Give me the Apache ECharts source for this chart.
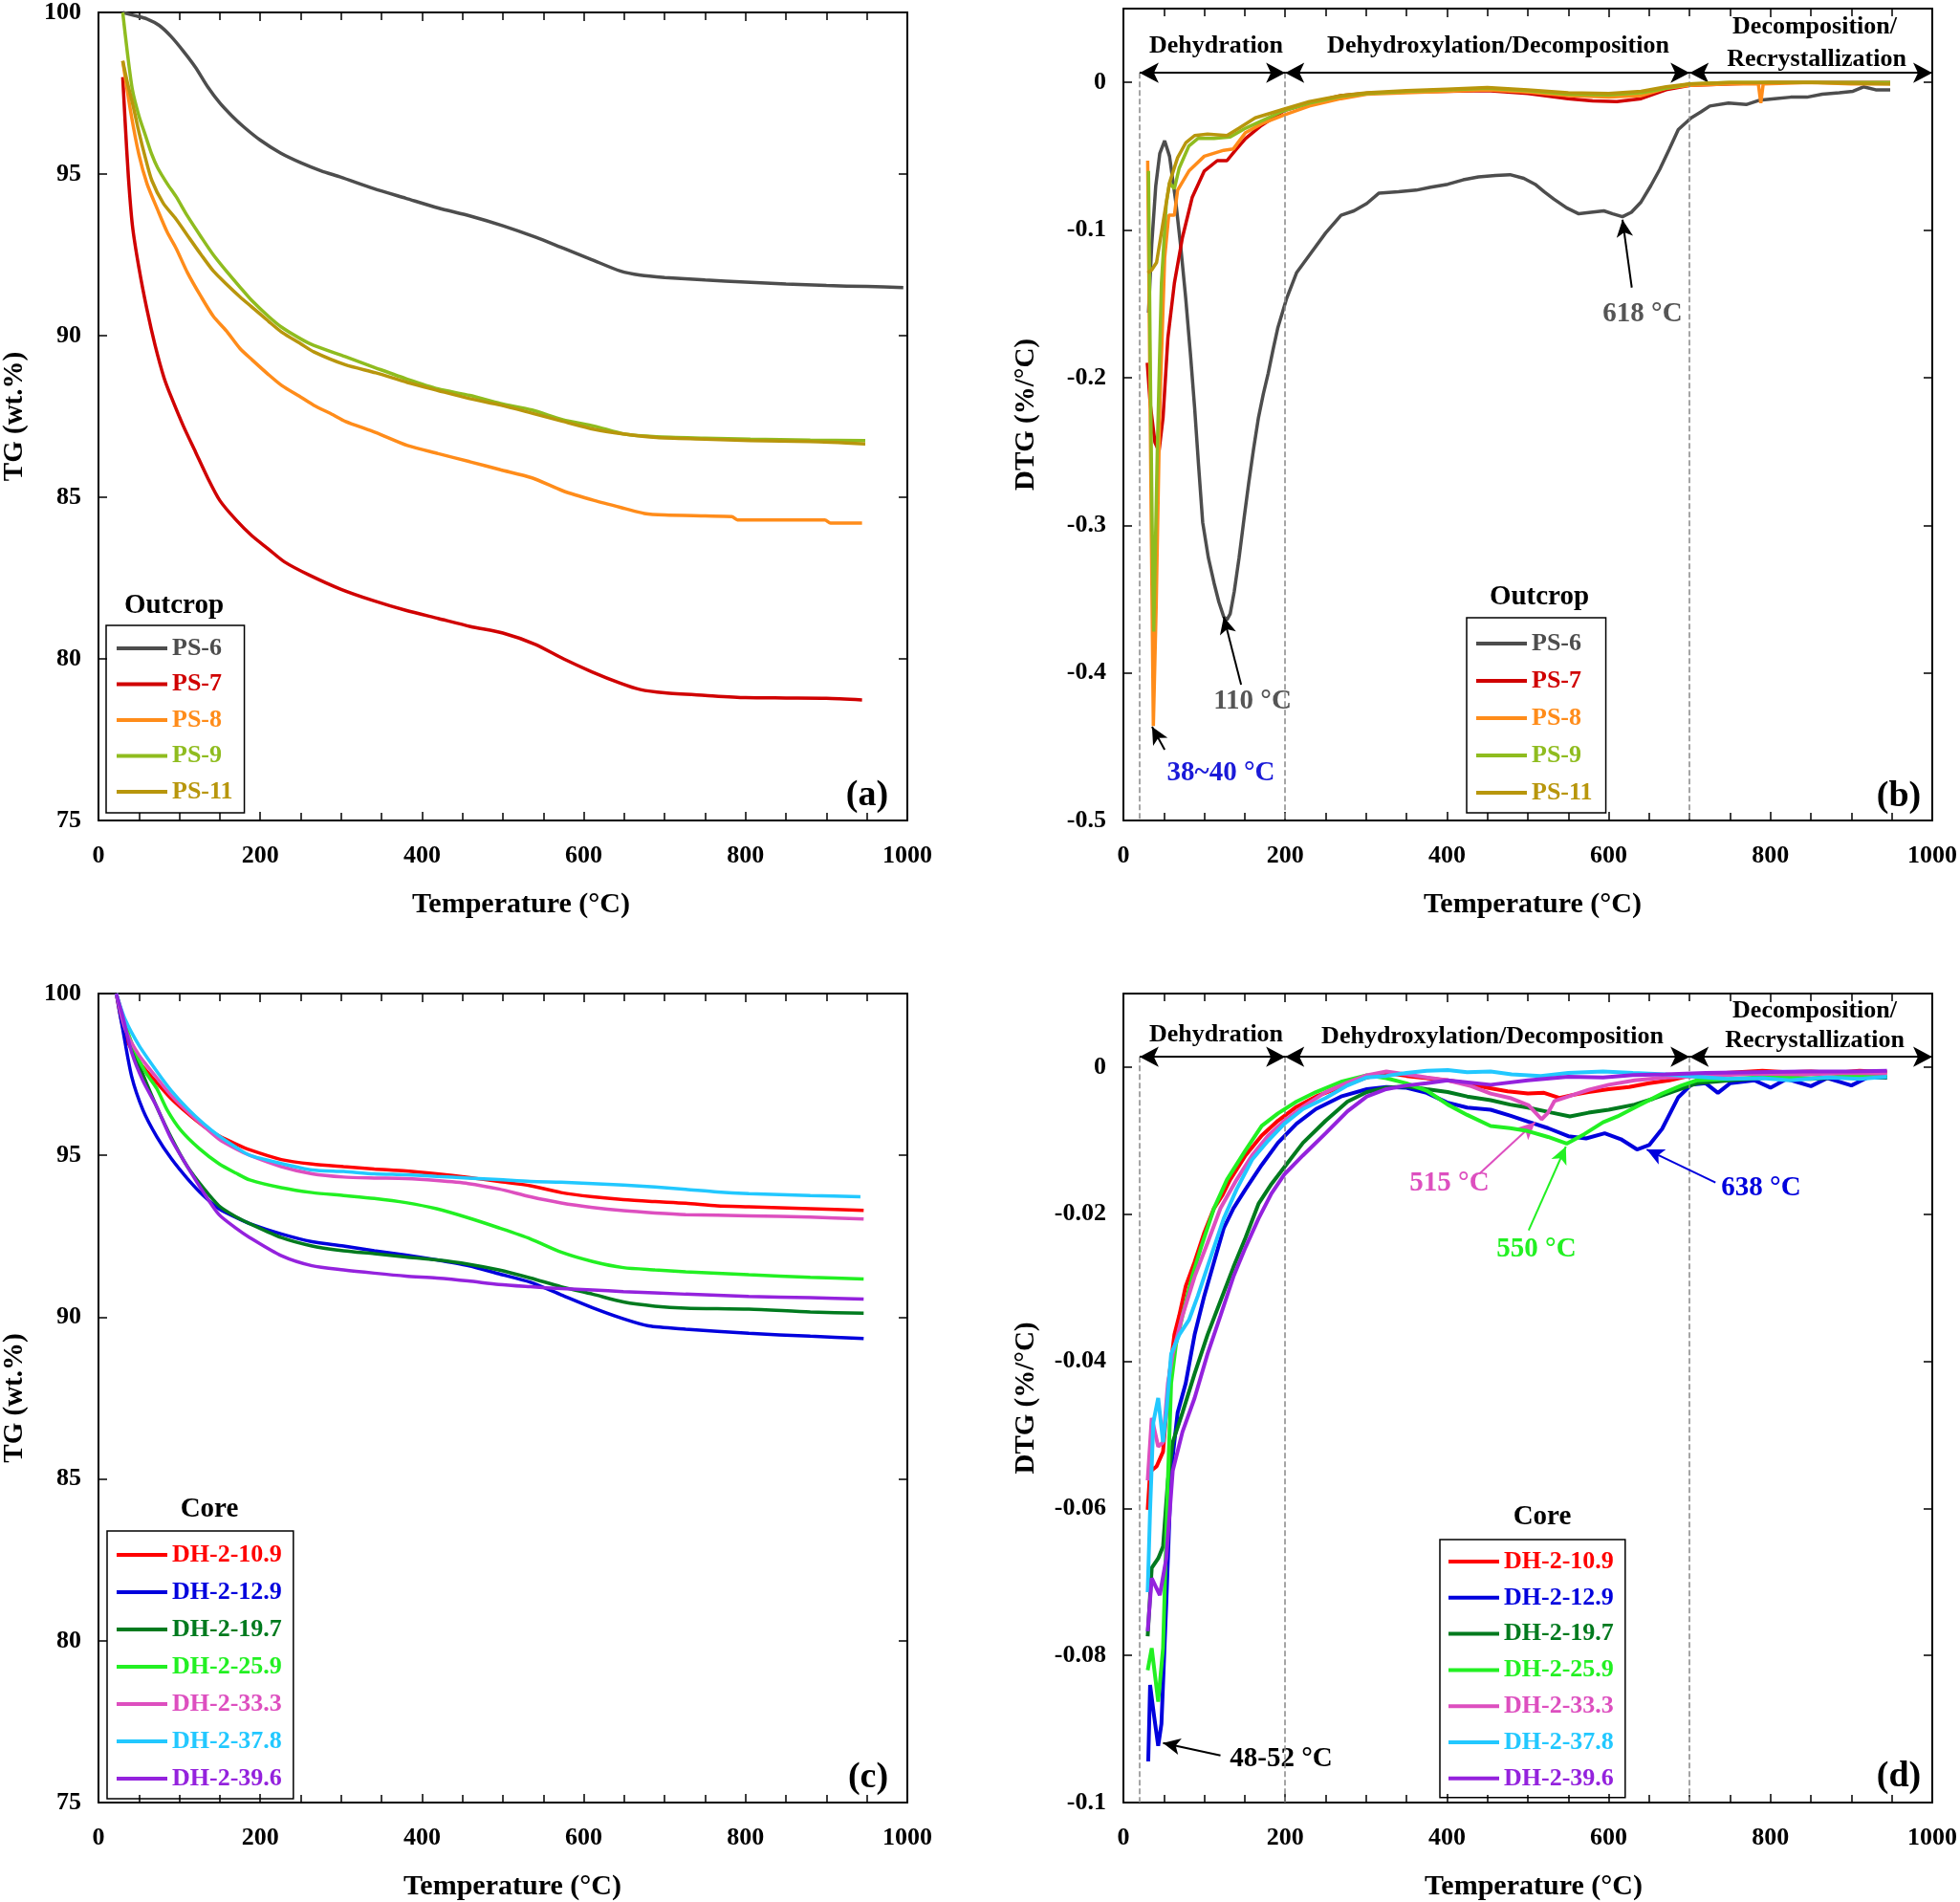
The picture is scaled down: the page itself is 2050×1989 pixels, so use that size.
<!DOCTYPE html>
<html>
<head>
<meta charset="utf-8">
<script src="https://cdn.jsdelivr.net/npm/echarts@6/dist/echarts.min.js"></script>
<style>
  html, body { margin: 0; padding: 0; background: #fff; }
  #chart { width: 2050px; height: 1989px; }
</style>
</head>
<body>
<div id="chart"></div>
<script>
var FONT = '"Liberation Serif", "Times New Roman", serif';

// ---- panel (a): TG, outcrop samples  [temperature, wt.%]
var tgPS6 = [[30,100],[45,99.9],[60,99.8],[75,99.6],[90,99.25],[105,98.8],[120,98.3],[135,97.7],[150,97.2],[165,96.8],[180,96.45],[200,96.05],[225,95.65],[250,95.35],[275,95.1],[300,94.9],[340,94.55],[380,94.25],[420,93.95],[460,93.7],[500,93.4],[540,93.05],[575,92.7],[610,92.35],[645,92.0],[670,91.87],[700,91.8],[750,91.72],[800,91.66],[850,91.6],[900,91.55],[950,91.52],[995,91.49]];
var tgPS7 = [[30,98.0],[33,96.6],[37,94.9],[42,93.4],[50,92.1],[60,90.8],[70,89.7],[81,88.7],[90,88.1],[105,87.2],[120,86.4],[135,85.6],[150,84.9],[170,84.3],[190,83.8],[210,83.4],[230,83.0],[260,82.6],[300,82.15],[340,81.8],[380,81.5],[420,81.25],[460,81.0],[500,80.8],[540,80.45],[575,80.0],[610,79.6],[645,79.25],[670,79.05],[700,78.95],[750,78.87],[800,78.8],[850,78.79],[900,78.78],[944,78.73]];
var tgPS8 = [[30,98.5],[40,96.9],[50,95.6],[60,94.7],[73,93.9],[85,93.2],[96,92.7],[110,91.95],[127,91.2],[142,90.6],[158,90.15],[175,89.6],[190,89.25],[210,88.8],[227,88.45],[250,88.1],[266,87.85],[290,87.55],[305,87.35],[343,87.0],[382,86.6],[420,86.35],[459,86.1],[497,85.85],[536,85.6],[574,85.2],[613,84.9],[651,84.65],[675,84.5],[700,84.45],[750,84.42],[783,84.4],[790,84.3],[898,84.3],[905,84.2],[944,84.2]];
var tgPS9 = [[30,100],[36,98.7],[42,97.6],[50,96.8],[58,96.2],[66,95.6],[73,95.2],[85,94.7],[96,94.3],[110,93.7],[127,93.05],[142,92.5],[158,92.0],[175,91.5],[189,91.1],[210,90.6],[227,90.25],[250,89.9],[266,89.7],[305,89.35],[343,89.0],[382,88.65],[420,88.35],[459,88.15],[497,87.9],[536,87.7],[574,87.4],[613,87.2],[651,86.95],[690,86.87],[750,86.83],[806,86.8],[880,86.77],[948,86.75]];
var tgPS11 = [[30,98.5],[36,97.8],[42,97.2],[50,96.3],[58,95.5],[66,94.8],[80,94.1],[96,93.6],[110,93.1],[127,92.5],[142,92.0],[158,91.6],[175,91.2],[189,90.9],[210,90.45],[227,90.1],[250,89.75],[266,89.5],[305,89.1],[343,88.85],[382,88.55],[420,88.3],[459,88.05],[497,87.85],[536,87.6],[574,87.35],[613,87.1],[651,86.95],[690,86.85],[750,86.8],[806,86.75],[880,86.72],[948,86.65]];

// ---- panel (b): DTG, outcrop samples  [temperature, %/°C]
var dtgPS6 = [[31,-0.156],[35,-0.11],[40,-0.07],[45,-0.048],[51,-0.0395],[57,-0.05],[65,-0.082],[71,-0.112],[77,-0.146],[83,-0.185],[88,-0.22],[93,-0.26],[98,-0.298],[105,-0.322],[112,-0.339],[118,-0.352],[124,-0.362],[128,-0.364],[132,-0.36],[137,-0.345],[143,-0.322],[149,-0.296],[155,-0.271],[161,-0.248],[167,-0.227],[173,-0.211],[179,-0.197],[185,-0.181],[191,-0.166],[202,-0.146],[214,-0.129],[230,-0.117],[250,-0.102],[269,-0.09],[285,-0.087],[301,-0.082],[316,-0.075],[340,-0.074],[362,-0.073],[380,-0.071],[401,-0.069],[420,-0.066],[439,-0.064],[460,-0.063],[478,-0.0625],[495,-0.065],[509,-0.069],[520,-0.074],[532,-0.079],[548,-0.085],[563,-0.089],[578,-0.088],[594,-0.087],[605,-0.089],[617,-0.091],[628,-0.088],[640,-0.081],[652,-0.07],[663,-0.059],[675,-0.045],[686,-0.032],[702,-0.024],[714,-0.02],[725,-0.016],[748,-0.014],[770,-0.015],[787,-0.012],[805,-0.011],[825,-0.01],[845,-0.01],[864,-0.008],[885,-0.007],[902,-0.006],[915,-0.003],[930,-0.005],[948,-0.005]];
var dtgPS7 = [[29.5,-0.19],[33,-0.217],[39,-0.244],[44,-0.25],[49,-0.227],[55,-0.173],[63,-0.136],[73,-0.105],[85,-0.078],[100,-0.06],[116,-0.053],[128,-0.053],[140,-0.045],[151,-0.038],[171,-0.029],[199,-0.019],[230,-0.014],[269,-0.009],[301,-0.0074],[350,-0.0065],[400,-0.006],[450,-0.0055],[500,-0.0075],[550,-0.011],[580,-0.0125],[610,-0.013],[640,-0.011],[671,-0.005],[700,-0.002],[750,-0.001],[800,0],[850,0],[900,0],[948,0]];
var dtgPS8 = [[30,-0.053],[32,-0.16],[35,-0.33],[37,-0.436],[40.5,-0.355],[45,-0.22],[51,-0.119],[56,-0.09],[63,-0.09],[67,-0.073],[81,-0.06],[100,-0.05],[124,-0.046],[136,-0.045],[151,-0.034],[171,-0.028],[199,-0.022],[230,-0.016],[269,-0.011],[301,-0.008],[350,-0.007],[400,-0.006],[450,-0.005],[500,-0.0065],[550,-0.009],[600,-0.01],[640,-0.009],[671,-0.004],[700,-0.002],[750,-0.001],[785,-0.001],[788,-0.014],[791,-0.001],[850,0],[900,-0.001],[948,-0.001]];
var dtgPS9 = [[31,-0.06],[33,-0.18],[35.5,-0.3],[37.5,-0.372],[42,-0.247],[47,-0.136],[53,-0.082],[57,-0.068],[63,-0.072],[69,-0.058],[81,-0.043],[92,-0.038],[112,-0.038],[132,-0.037],[151,-0.031],[171,-0.026],[199,-0.019],[230,-0.014],[269,-0.0095],[301,-0.0075],[350,-0.006],[400,-0.005],[450,-0.004],[500,-0.0055],[550,-0.008],[600,-0.0085],[640,-0.007],[671,-0.004],[700,-0.001],[750,0],[850,0],[948,0]];
var dtgPS11 = [[30,-0.129],[35,-0.127],[41,-0.122],[49,-0.095],[57,-0.068],[67,-0.051],[77,-0.041],[88,-0.036],[104,-0.035],[128,-0.036],[143,-0.031],[163,-0.024],[199,-0.018],[230,-0.013],[269,-0.009],[301,-0.007],[350,-0.0055],[400,-0.0045],[450,-0.0035],[500,-0.005],[550,-0.007],[600,-0.0075],[640,-0.006],[671,-0.003],[700,-0.001],[750,0],[850,0],[948,-0.001]];

// ---- panel (c): TG, core samples
var tgDH109 = [[22,100],[33,98.7],[50,97.9],[72,97.25],[90,96.75],[110,96.3],[130,95.9],[149,95.6],[170,95.35],[187,95.17],[226,94.87],[264,94.73],[303,94.65],[341,94.58],[380,94.52],[418,94.43],[457,94.32],[495,94.19],[534,94.06],[572,93.85],[611,93.72],[649,93.63],[688,93.57],[726,93.52],[765,93.44],[804,93.41],[880,93.35],[946,93.3]];
var tgDH129 = [[22,100],[30,98.9],[41,97.44],[55,96.4],[72,95.58],[90,94.9],[110,94.28],[130,93.75],[149,93.35],[170,93.08],[187,92.89],[226,92.57],[264,92.33],[303,92.2],[341,92.05],[380,91.92],[418,91.77],[457,91.59],[495,91.34],[534,91.08],[572,90.69],[611,90.29],[649,89.95],[680,89.73],[726,89.63],[804,89.5],[880,89.41],[946,89.34]];
var tgDH197 = [[22,100],[30,99.3],[41,98.4],[55,97.5],[72,96.5],[90,95.55],[110,94.65],[130,93.98],[149,93.44],[170,93.1],[187,92.89],[226,92.46],[264,92.2],[303,92.05],[341,91.96],[380,91.86],[418,91.77],[457,91.64],[495,91.46],[534,91.21],[572,90.94],[611,90.71],[649,90.47],[688,90.34],[726,90.28],[804,90.25],[880,90.16],[946,90.12]];
var tgDH259 = [[22,100],[35,98.9],[49,98.0],[60,97.5],[72,97.07],[85,96.4],[102,95.77],[125,95.2],[149,94.74],[170,94.45],[187,94.24],[226,94.0],[264,93.85],[303,93.76],[341,93.67],[380,93.54],[418,93.35],[457,93.07],[495,92.76],[534,92.42],[572,92.01],[611,91.72],[649,91.53],[688,91.46],[726,91.4],[804,91.31],[880,91.23],[946,91.18]];
var tgDH333 = [[22,100],[33,98.9],[50,98.1],[72,97.4],[90,96.85],[110,96.35],[130,95.9],[149,95.5],[170,95.2],[187,95.0],[226,94.65],[264,94.43],[303,94.33],[341,94.3],[380,94.28],[418,94.22],[457,94.13],[495,93.96],[534,93.72],[572,93.53],[611,93.39],[649,93.29],[688,93.22],[726,93.17],[804,93.13],[880,93.09],[946,93.03]];
var tgDH378 = [[22,100],[33,99.2],[50,98.4],[72,97.6],[90,97.0],[110,96.45],[130,95.98],[149,95.6],[170,95.25],[187,95.0],[226,94.75],[264,94.55],[303,94.5],[341,94.43],[380,94.4],[418,94.35],[457,94.3],[495,94.25],[534,94.19],[572,94.17],[611,94.13],[649,94.08],[688,94.02],[726,93.95],[765,93.87],[804,93.82],[880,93.76],[942,93.72]];
var tgDH396 = [[22,100],[30,99.3],[41,98.18],[55,97.3],[72,96.5],[90,95.5],[110,94.65],[130,93.85],[149,93.17],[170,92.75],[187,92.46],[226,91.9],[264,91.59],[303,91.46],[341,91.36],[380,91.27],[418,91.21],[457,91.12],[495,91.01],[534,90.94],[572,90.88],[611,90.84],[649,90.79],[726,90.71],[804,90.64],[880,90.6],[946,90.56]];

// ---- panel (d): DTG, core samples
var dtgDH109 = [[30,-0.0602],[33,-0.055],[41,-0.0543],[49,-0.0523],[57,-0.0417],[63,-0.0364],[69,-0.0338],[77,-0.0298],[88,-0.0265],[100,-0.0225],[112,-0.0192],[122,-0.0175],[132,-0.0153],[151,-0.012],[171,-0.0093],[191,-0.0073],[214,-0.0054],[238,-0.004],[269,-0.0027],[301,-0.0014],[325,-0.0008],[350,-0.0012],[375,-0.0015],[400,-0.0018],[425,-0.0022],[450,-0.0028],[475,-0.0033],[500,-0.0036],[520,-0.0035],[539,-0.0042],[555,-0.0038],[575,-0.0034],[600,-0.003],[625,-0.0027],[650,-0.0022],[675,-0.0018],[700,-0.0012],[730,-0.0009],[760,-0.0007],[790,-0.0005],[820,-0.0007],[850,-0.0006],[880,-0.0008],[910,-0.0005],[944,-0.0007]];
var dtgDH129 = [[30.7,-0.0944],[33,-0.084],[38,-0.0883],[43,-0.0923],[47,-0.0893],[53,-0.0728],[59,-0.0549],[67,-0.047],[77,-0.043],[88,-0.0364],[100,-0.0311],[112,-0.0265],[124,-0.0219],[136,-0.0192],[151,-0.0166],[171,-0.0133],[191,-0.0103],[214,-0.0077],[238,-0.0057],[269,-0.004],[301,-0.003],[325,-0.0027],[350,-0.0028],[375,-0.0035],[400,-0.0048],[425,-0.0055],[454,-0.0058],[478,-0.0066],[500,-0.0074],[525,-0.0083],[550,-0.0094],[572,-0.0097],[595,-0.009],[615,-0.0098],[635,-0.0112],[650,-0.0106],[666,-0.0084],[686,-0.0041],[702,-0.0024],[720,-0.0022],[735,-0.0035],[750,-0.0022],[780,-0.0018],[800,-0.0028],[820,-0.0016],[850,-0.0026],[870,-0.0015],[900,-0.0025],[920,-0.0014],[944,-0.0014]];
var dtgDH197 = [[30,-0.0774],[35,-0.0681],[43,-0.0668],[49,-0.0652],[55,-0.0562],[61,-0.051],[73,-0.047],[88,-0.0417],[104,-0.0364],[120,-0.0318],[136,-0.0272],[151,-0.0232],[167,-0.0186],[183,-0.0159],[199,-0.0136],[222,-0.0103],[250,-0.0073],[277,-0.0047],[301,-0.0034],[325,-0.0028],[350,-0.0026],[375,-0.003],[401,-0.0034],[425,-0.004],[454,-0.0045],[478,-0.0051],[500,-0.0055],[530,-0.0062],[552,-0.0067],[575,-0.0062],[600,-0.0058],[632,-0.0051],[655,-0.0043],[680,-0.0033],[709,-0.0022],[750,-0.0018],[800,-0.0014],[850,-0.0016],[900,-0.0013],[944,-0.0014]];
var dtgDH259 = [[30,-0.082],[35,-0.079],[43,-0.0863],[49,-0.079],[55,-0.0562],[59,-0.043],[65,-0.0377],[73,-0.0338],[85,-0.0285],[96,-0.0245],[112,-0.0192],[128,-0.0153],[151,-0.0113],[171,-0.008],[191,-0.0063],[214,-0.0047],[238,-0.0034],[269,-0.002],[301,-0.0011],[325,-0.0015],[350,-0.0022],[375,-0.0032],[401,-0.0051],[425,-0.0065],[454,-0.008],[478,-0.0083],[500,-0.0087],[525,-0.0095],[548,-0.0104],[570,-0.0091],[593,-0.0075],[611,-0.0067],[632,-0.0055],[666,-0.0036],[690,-0.0025],[709,-0.0018],[750,-0.0016],[800,-0.0013],[850,-0.0015],[900,-0.0012],[944,-0.0012]];
var dtgDH333 = [[30,-0.0562],[35,-0.0477],[43,-0.0516],[49,-0.051],[55,-0.043],[61,-0.039],[73,-0.0338],[88,-0.0285],[104,-0.0239],[120,-0.0192],[140,-0.0153],[159,-0.012],[179,-0.0093],[199,-0.0073],[222,-0.0054],[250,-0.0034],[277,-0.0021],[301,-0.0011],[325,-0.0006],[350,-0.001],[375,-0.0014],[401,-0.0018],[430,-0.0026],[454,-0.0036],[478,-0.0042],[501,-0.0052],[517,-0.0071],[525,-0.0062],[533,-0.0046],[550,-0.004],[575,-0.0031],[600,-0.0024],[632,-0.0018],[670,-0.0014],[720,-0.0012],[780,-0.0009],[840,-0.001],[900,-0.0008],[944,-0.0009]];
var dtgDH378 = [[30,-0.0714],[33,-0.0602],[37,-0.0483],[43,-0.045],[49,-0.051],[53,-0.047],[59,-0.039],[69,-0.0364],[81,-0.0344],[92,-0.0311],[108,-0.0258],[124,-0.0206],[140,-0.0166],[159,-0.0126],[179,-0.01],[199,-0.0077],[222,-0.0057],[250,-0.0042],[277,-0.0025],[301,-0.0014],[325,-0.0012],[350,-0.0008],[375,-0.0005],[401,-0.0004],[425,-0.0007],[454,-0.0006],[480,-0.001],[516,-0.0012],[550,-0.0008],[593,-0.0006],[630,-0.0008],[670,-0.001],[710,-0.0013],[747,-0.0016],[790,-0.0015],[824,-0.0018],[870,-0.0014],[910,-0.0016],[944,-0.0013]];
var dtgDH396 = [[30,-0.0767],[35,-0.0695],[45,-0.0718],[53,-0.0668],[61,-0.0549],[73,-0.0496],[88,-0.045],[104,-0.039],[120,-0.0338],[136,-0.0285],[151,-0.0245],[167,-0.0206],[183,-0.0172],[199,-0.0146],[222,-0.012],[250,-0.009],[277,-0.006],[301,-0.004],[325,-0.003],[350,-0.0025],[375,-0.0022],[401,-0.0018],[454,-0.0024],[500,-0.0018],[550,-0.0013],[593,-0.0014],[630,-0.0011],[670,-0.001],[720,-0.0008],[780,-0.0007],[840,-0.0006],[900,-0.0006],[944,-0.0005]];

var outcropNames = ['PS-6', 'PS-7', 'PS-8', 'PS-9', 'PS-11'];
var coreNames = ['DH-2-10.9', 'DH-2-12.9', 'DH-2-19.7', 'DH-2-25.9', 'DH-2-33.3', 'DH-2-37.8', 'DH-2-39.6'];
var outcropColors = ['#4d4d4d', '#d00000', '#ff8c1a', '#8fbc1f', '#b8960c'];
var coreColors = ['#ff0000', '#0000dd', '#007a1e', '#22f022', '#dd4fbf', '#22c8ff', '#9422dd'];

var tgOutcrop = [tgPS6, tgPS7, tgPS8, tgPS9, tgPS11];
var dtgOutcrop = [dtgPS6, dtgPS7, dtgPS8, dtgPS9, dtgPS11];
var tgCore = [tgDH109, tgDH129, tgDH197, tgDH259, tgDH333, tgDH378, tgDH396];
var dtgCore = [dtgDH109, dtgDH129, dtgDH197, dtgDH259, dtgDH333, dtgDH378, dtgDH396];

var chart = echarts.init(document.getElementById('chart'));

var grids = [
  {left: 102, top: 9, width: 847, height: 849},
  {left: 1175, top: 9, width: 848, height: 849},
  {left: 102, top: 1039, width: 847, height: 849},
  {left: 1175, top: 1039, width: 848, height: 848}
];
// horizontal nudge of each "Temperature" title (the originals sit a bit right of centre)
var nameShift = [19, 5, 10, 6];

var labelFont = {fontFamily: FONT, fontWeight: 'bold', fontSize: 26, color: '#000'};

function xAxis(gi, top) {
  return {
    gridIndex: gi, type: 'value', min: 0, max: 1000, interval: 200,
    position: top ? 'top' : 'bottom',
    axisLine: {show: true, onZero: false, lineStyle: {color: '#000', width: 2}},
    axisTick: {show: true, inside: true, length: 9, lineStyle: {color: '#000', width: 1.5}},
    minorTick: {show: true, splitNumber: 4, length: 8, lineStyle: {color: '#000', width: 1.5}},
    splitLine: {show: false},
    axisLabel: top ? {show: false} : Object.assign({margin: 24, formatter: function (v) { return String(v); }}, labelFont),
    name: top ? '' : 'Temperature (°C)',
    nameLocation: 'middle', nameGap: 73,
    nameTextStyle: {fontFamily: FONT, fontWeight: 'bold', fontSize: 30, color: '#000',
      padding: [0, 0, 0, 2 * nameShift[gi]]}
  };
}

function yAxis(gi, right, min, max, interval, name, gap, fmt) {
  return {
    gridIndex: gi, type: 'value', min: min, max: max, interval: interval,
    position: right ? 'right' : 'left',
    axisLine: {show: true, onZero: false, lineStyle: {color: '#000', width: 2}},
    axisTick: {show: true, inside: true, length: 9, lineStyle: {color: '#000', width: 1.5}},
    splitLine: {show: false},
    axisLabel: right ? {show: false} : Object.assign({margin: 18, formatter: fmt}, labelFont),
    name: right ? '' : name,
    nameLocation: 'middle', nameGap: gap,
    nameTextStyle: {fontFamily: FONT, fontWeight: 'bold', fontSize: 29, color: '#000'}
  };
}

function dtgFmt(v) {
  if (v > 1e-9) return '';
  if (Math.abs(v) < 1e-9) return '0';
  return String(+v.toFixed(2));
}

var xAxes = [], yAxes = [];
for (var i = 0; i < 4; i++) xAxes.push(xAxis(i, false));
for (var i = 0; i < 4; i++) xAxes.push(xAxis(i, true));
yAxes.push(yAxis(0, false, 75, 100, 5, 'TG (wt.%)', 73));
yAxes.push(yAxis(1, false, -0.5, 0.05, 0.1, 'DTG (%/°C)', 87, dtgFmt));
yAxes.push(yAxis(2, false, 75, 100, 5, 'TG (wt.%)', 73));
yAxes.push(yAxis(3, false, -0.1, 0.01, 0.02, 'DTG (%/°C)', 87, dtgFmt));
yAxes.push(yAxis(0, true, 75, 100, 5));
yAxes.push(yAxis(1, true, -0.5, 0.05, 0.1));
yAxes.push(yAxis(2, true, 75, 100, 5));
yAxes.push(yAxis(3, true, -0.1, 0.01, 0.02));

var series = [];
function addLines(names, colors, sets, gi, smooth, width) {
  names.forEach(function (n, k) {
    series.push({
      name: n, type: 'line', xAxisIndex: gi, yAxisIndex: gi, data: sets[k],
      showSymbol: false, symbol: 'none', smooth: smooth,
      lineStyle: {width: width, color: colors[k]}, itemStyle: {color: colors[k]},
      emphasis: {disabled: true}, animation: false, z: 2 + k
    });
  });
}
addLines(outcropNames, outcropColors, tgOutcrop, 0, 0.25, 3.5);
addLines(outcropNames, outcropColors, dtgOutcrop, 1, false, 3.5);
addLines(coreNames, coreColors, tgCore, 2, 0.25, 3.5);
addLines(coreNames, coreColors, dtgCore, 3, false, 4);

// region markers, dashed boundaries and pointer arrows (data coordinates)
function seg(a, b, color, width, dashed, s0, s1) {
  var ls = {color: color, width: width, type: dashed ? 'dashed' : 'solid'};
  return [{coord: a, symbol: s0 || 'none', symbolSize: [16, 20], lineStyle: ls},
          {coord: b, symbol: s1 || 'none', symbolSize: [16, 20], lineStyle: ls}];
}
function regionMarks(yArrow, yBottom) {
  return [
    seg([20, yArrow], [20, yBottom], '#888', 1.5, true),
    seg([200, yArrow], [200, yBottom], '#888', 1.5, true),
    seg([700, yArrow], [700, yBottom], '#888', 1.5, true),
    seg([20, yArrow], [200, yArrow], '#000', 2, false, 'arrow', 'arrow'),
    seg([200, yArrow], [700, yArrow], '#000', 2, false, 'arrow', 'arrow'),
    seg([700, yArrow], [1000, yArrow], '#000', 2, false, 'arrow', 'arrow')
  ];
}
function pointer(a, b, color) {
  var ls = {color: color, width: 2, type: 'solid'};
  return [{coord: a, symbol: 'none', lineStyle: ls},
          {coord: b, symbol: 'arrow', symbolSize: [13, 18], lineStyle: ls}];
}

series.push({
  name: 'marksB', type: 'line', xAxisIndex: 1, yAxisIndex: 1, data: [], silent: true,
  markLine: {silent: true, animation: false, label: {show: false}, symbol: ['none', 'none'],
    data: regionMarks(0.0065, -0.5).concat([
      pointer([145.5, -0.408], [124, -0.362], '#000'),
      pointer([51, -0.452], [35.4, -0.4365], '#000'),
      pointer([628.5, -0.139], [617, -0.093], '#000')
    ])}
});
series.push({
  name: 'marksD', type: 'line', xAxisIndex: 3, yAxisIndex: 3, data: [], silent: true,
  markLine: {silent: true, animation: false, label: {show: false}, symbol: ['none', 'none'],
    data: regionMarks(0.0014, -0.1).concat([
      pointer([120, -0.0936], [49, -0.0919], '#000'),
      pointer([440, -0.0145], [509, -0.0075], '#dd4fbf'),
      pointer([501, -0.0222], [547, -0.0108], '#22f022'),
      pointer([732, -0.0157], [647, -0.0112], '#0000dd')
    ])}
});

function legend(names, colors, left, top, gap, pad) {
  return {
    orient: 'vertical', left: left, top: top, selectedMode: false,
    icon: 'rect', itemWidth: 53, itemHeight: 4, itemGap: gap,
    padding: pad, borderColor: '#000', borderWidth: 1.5,
    textStyle: {fontFamily: FONT, fontWeight: 'bold', fontSize: 26, lineHeight: 28},
    data: names.map(function (n, k) { return {name: n, textStyle: {color: colors[k]}}; })
  };
}

function txt(x, y, s, size, color) {
  return {
    type: 'text', x: x, y: y, silent: true,
    style: {text: s, fill: color || '#000', font: 'bold ' + size + 'px ' + FONT,
      align: 'center', verticalAlign: 'middle', textAlign: 'center', textVerticalAlign: 'middle'}
  };
}

var option = {
  backgroundColor: '#fff',
  animation: false,
  grid: grids,
  xAxis: xAxes,
  yAxis: yAxes,
  legend: [
    legend(outcropNames, outcropColors, 111, 654, 9.5, [10, 12, 8, 11]),
    legend(outcropNames, outcropColors, 1534, 646, 11, [13, 14, 7, 10]),
    legend(coreNames, coreColors, 112, 1601, 11, [11, 12, 7, 10]),
    legend(coreNames, coreColors, 1506, 1610, 9.8, [9, 12, 6, 9])
  ],
  graphic: [
    txt(182, 634, 'Outcrop', 29), txt(1610, 625, 'Outcrop', 29),
    txt(219, 1579, 'Core', 29), txt(1613, 1587, 'Core', 29),
    txt(907, 832, '(a)', 38), txt(1986, 833, '(b)', 38),
    txt(908, 1859, '(c)', 38), txt(1986, 1858, '(d)', 38),
    txt(1272, 48, 'Dehydration', 26), txt(1567, 48, 'Dehydroxylation/Decomposition', 26),
    txt(1898, 28, 'Decomposition/', 26), txt(1900, 62, 'Recrystallization', 26),
    txt(1272, 1082, 'Dehydration', 26), txt(1561, 1084, 'Dehydroxylation/Decomposition', 26),
    txt(1898, 1057, 'Decomposition/', 26), txt(1898, 1088, 'Recrystallization', 26),
    txt(1310, 734, '110 °C', 29, '#555'),
    txt(1277, 809, '38~40 °C', 29, '#1a1ad8'),
    txt(1718, 329, '618 °C', 29, '#555'),
    txt(1340, 1840, '48-52 °C', 29, '#000'),
    txt(1516, 1238, '515 °C', 29, '#dd4fbf'),
    txt(1607, 1307, '550 °C', 29, '#22f022'),
    txt(1842, 1243, '638 °C', 29, '#0000dd')
  ],
  series: series
};

chart.setOption(option);
</script>
</body>
</html>
